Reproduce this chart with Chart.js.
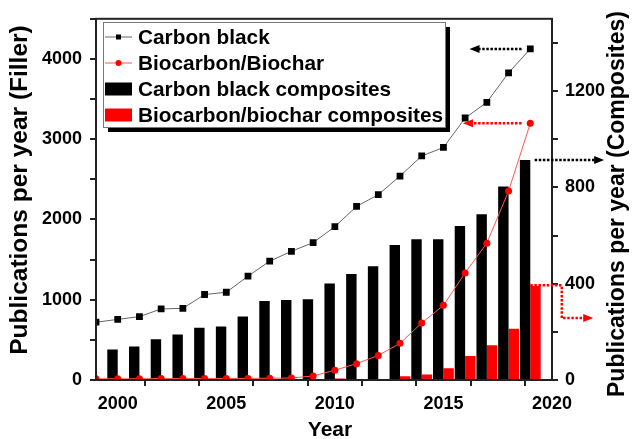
<!DOCTYPE html>
<html>
<head>
<meta charset="utf-8">
<script src="https://cdn.jsdelivr.net/npm/chart.js@4.4.1/dist/chart.umd.min.js"></script>
<style>
  body { margin: 0; background: #fff; }
  #wrap { width: 633px; height: 439px; }
</style>
</head>
<body>
<div id="wrap"><canvas id="chart"></canvas></div>
<script>
const years = [1999, 2000, 2001, 2002, 2003, 2004, 2005, 2006, 2007, 2008, 2009,
  2010, 2011, 2012, 2013, 2014, 2015, 2016, 2017, 2018, 2019];
// left axis (filler)
const carbonBlack = [720, 755, 790, 885, 893, 1065, 1093, 1293, 1481, 1603, 1712,
  1910, 2163, 2309, 2541, 2791, 2897, 3264, 3460, 3827, 4125];
const biochar = [15, 15, 15, 18, 18, 20, 18, 20, 22, 25, 50,
  122, 204, 306, 457, 710, 930, 1334, 1705, 2354, 3198];
// right axis (composites)
const carbonBlackComposites = [null, 127, 139, 169, 189, 217, 222, 264, 328, 332, 335,
  401, 440, 472, 561, 585, 585, 640, 688, 804, 914];
const biocharComposites = [0, 0, 0, 0, 0, 2, 2, 1, 1, 1, 2,
  6, 3, 4, 16, 23, 49, 100, 144, 213, 390];

const xTicks = [2000, 2002.5, 2005, 2007.5, 2010, 2012.5, 2015, 2017.5, 2020];
const leftTicks = [0, 500, 1000, 1500, 2000, 2500, 3000, 3500, 4000, 4500];
const rightTicks = [0, 200, 400, 600, 800, 1000, 1200, 1400];

// dotted arrows: axis, colour, points in data units (year, value)
const arrows = [
  { axis: 'y', color: '#000', pts: [[2018.6, 4125], [2016.2, 4125]] },
  { axis: 'y', color: '#ff0000', pts: [[2018.6, 3198], [2015.9, 3198]] },
  { axis: 'y2', color: '#000', pts: [[2019.2, 914], [2022.4, 914]] },
  { axis: 'y2', color: '#ff0000', pts: [[2019.0, 393], [2020.45, 393], [2020.45, 257], [2021.9, 257]] }
];

const FONT = "'Liberation Sans', Arial, sans-serif";
const pairs = arr => years.map((x, i) => ({ x: x, y: arr[i] }));

const frame = {
  id: 'frame',
  afterDatasetsDraw(chart) {
    const { ctx, chartArea: a } = chart;
    ctx.save();
    ctx.strokeStyle = '#222';
    ctx.lineWidth = 2;
    ctx.strokeRect(a.left, a.top, a.right - a.left, a.bottom - a.top);
    ctx.restore();
  }
};

const annotations = {
  id: 'annotations',
  afterDraw(chart) {
    const ctx = chart.ctx;
    const xs = chart.scales.x;
    ctx.save();
    arrows.forEach(ar => {
      const ys = chart.scales[ar.axis];
      const p = ar.pts.map(q => [xs.getPixelForValue(q[0]), ys.getPixelForValue(q[1])]);
      const n = p.length;
      const tip = p[n - 1], prev = p[n - 2];
      const ang = Math.atan2(tip[1] - prev[1], tip[0] - prev[0]);
      const hl = 10, hw = 4;
      ctx.strokeStyle = ar.color;
      ctx.fillStyle = ar.color;
      ctx.lineWidth = 2.5;
      ctx.setLineDash([2.5, 1.6]);
      ctx.beginPath();
      ctx.moveTo(p[0][0], p[0][1]);
      for (let i = 1; i < n - 1; i++) ctx.lineTo(p[i][0], p[i][1]);
      ctx.lineTo(tip[0] - Math.cos(ang) * (hl - 1), tip[1] - Math.sin(ang) * (hl - 1));
      ctx.stroke();
      ctx.setLineDash([]);
      ctx.beginPath();
      ctx.moveTo(tip[0], tip[1]);
      ctx.lineTo(tip[0] - Math.cos(ang) * hl - Math.sin(ang) * hw, tip[1] - Math.sin(ang) * hl + Math.cos(ang) * hw);
      ctx.lineTo(tip[0] - Math.cos(ang) * hl + Math.sin(ang) * hw, tip[1] - Math.sin(ang) * hl - Math.cos(ang) * hw);
      ctx.closePath();
      ctx.fill();
    });

    // axis titles
    ctx.fillStyle = '#000';
    ctx.textAlign = 'center';
    ctx.textBaseline = 'middle';
    ctx.font = 'bold 21px ' + FONT;
    ctx.fillText('Year', 330, 430);
    ctx.font = 'bold 24.5px ' + FONT;
    ctx.save();
    ctx.translate(20, 190);
    ctx.rotate(-Math.PI / 2);
    ctx.fillText('Publications per year (Filler)', 0, 0);
    ctx.restore();
    ctx.font = 'bold 23px ' + FONT;
    ctx.save();
    ctx.translate(618, 204);
    ctx.rotate(-Math.PI / 2);
    ctx.fillText('Publications per year (Composites)', 0, 0);
    ctx.restore();

    // legend box
    const L = 103, T = 22, W = 342, H = 105;
    ctx.fillStyle = '#000';
    ctx.fillRect(L + 5, T + 5, W, H);
    ctx.fillStyle = '#fff';
    ctx.fillRect(L, T, W, H);
    ctx.strokeStyle = '#777';
    ctx.lineWidth = 1;
    ctx.strokeRect(L + 0.5, T + 0.5, W, H);
    const rows = [37, 63, 89, 115];
    ctx.textAlign = 'left';
    ctx.font = 'bold 20.8px ' + FONT;
    chart.data.datasets.forEach((ds, i) => {
      const y = rows[i];
      if (ds.type === 'line') {
        ctx.strokeStyle = ds.borderColor;
        ctx.lineWidth = 1;
        ctx.beginPath();
        ctx.moveTo(L + 2, y);
        ctx.lineTo(L + 29, y);
        ctx.stroke();
        ctx.fillStyle = ds.pointBackgroundColor;
        if (ds.pointStyle === 'rect') {
          ctx.fillRect(L + 13, y - 2.5, 5, 5);
        } else {
          ctx.beginPath();
          ctx.arc(L + 15.5, y, 3, 0, Math.PI * 2);
          ctx.fill();
        }
      } else {
        ctx.fillStyle = ds.backgroundColor;
        ctx.fillRect(L + 2, y - 6.5, 27, 13);
      }
      ctx.fillStyle = '#000';
      ctx.fillText(ds.label, L + 35, y + 1);
    });
    ctx.restore();
  }
};

const tickFont = { family: FONT, weight: 'bold', size: 18 };
const axisGrid = { drawOnChartArea: false, drawTicks: true, tickLength: 6, color: '#222', lineWidth: 2 };

new Chart(document.getElementById('chart'), {
  data: {
    datasets: [
      {
        type: 'line', label: 'Carbon black', data: pairs(carbonBlack), yAxisID: 'y',
        borderColor: '#666', borderWidth: 1, pointStyle: 'rect', pointRadius: 4.8,
        pointBackgroundColor: '#000', pointBorderColor: '#000', pointBorderWidth: 0, order: 0
      },
      {
        type: 'line', label: 'Biocarbon/Biochar', data: pairs(biochar), yAxisID: 'y',
        borderColor: '#ff5555', borderWidth: 1, pointStyle: 'circle', pointRadius: 3.5,
        pointBackgroundColor: '#ff0000', pointBorderColor: '#ff0000', pointBorderWidth: 0, order: 0
      },
      {
        type: 'bar', label: 'Carbon black composites', data: pairs(carbonBlackComposites), yAxisID: 'y2',
        backgroundColor: '#000', barPercentage: 1, categoryPercentage: 0.96, order: 1
      },
      {
        type: 'bar', label: 'Biocarbon/biochar composites', data: pairs(biocharComposites), yAxisID: 'y2',
        backgroundColor: '#ff0000', barPercentage: 1, categoryPercentage: 0.96, order: 1
      }
    ]
  },
  options: {
    responsive: true,
    maintainAspectRatio: false,
    animation: false,
    layout: { padding: { top: 13, left: 0, right: 0, bottom: 0 } },
    plugins: { legend: { display: false }, tooltip: { enabled: false } },
    scales: {
      x: {
        type: 'linear', min: 1999, max: 2020, offset: false,
        afterBuildTicks: s => { s.ticks = xTicks.map(v => ({ value: v })); },
        afterFit: s => { s.height = 59; },
        grid: axisGrid,
        border: { color: '#222', width: 2 },
        ticks: {
          autoSkip: false, maxRotation: 0, padding: 7, color: '#000', font: tickFont,
          callback: v => (v % 5 === 0 ? String(v) : '')
        }
      },
      y: {
        position: 'left', min: 0, max: 4500,
        afterBuildTicks: s => { s.ticks = leftTicks.map(v => ({ value: v })); },
        afterFit: s => { s.width = 96; },
        grid: axisGrid,
        border: { color: '#222', width: 2 },
        ticks: {
          padding: 8, color: '#000', font: tickFont,
          callback: v => (v % 1000 === 0 ? String(v) : '')
        }
      },
      y2: {
        position: 'right', min: 0, max: 1500,
        afterBuildTicks: s => { s.ticks = rightTicks.map(v => ({ value: v })); },
        afterFit: s => { s.width = 81; },
        grid: axisGrid,
        border: { color: '#222', width: 2 },
        ticks: {
          padding: 7, color: '#000', font: tickFont,
          callback: v => (v % 400 === 0 ? String(v) : '')
        }
      }
    }
  },
  plugins: [frame, annotations]
});
</script>
</body>
</html>
